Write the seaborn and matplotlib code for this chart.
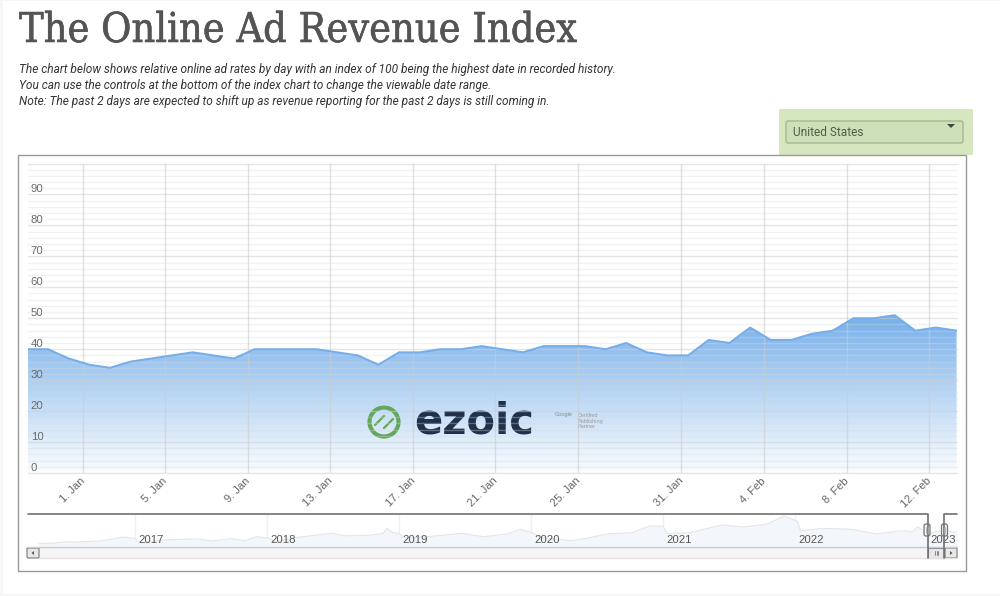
import numpy as np
import pandas as pd
import seaborn as sns
import matplotlib.pyplot as plt
import matplotlib.patheffects as pe
from matplotlib.colors import LinearSegmentedColormap
from matplotlib.patches import Rectangle, FancyBboxPatch, Circle, Polygon
from matplotlib.transforms import ScaledTranslation

#%% data
index_values = [40, 40, 37, 35, 34, 36, 37, 38, 39, 38, 37, 40, 40, 40, 40, 39, 38, 35, 39, 39, 40, 40, 41,
                40, 39, 41, 41, 41, 40, 42, 39, 38, 38, 43, 42, 47, 43, 43, 45, 46, 50, 50, 51, 46, 47, 46]
tick_labels = ['1. Jan', '5. Jan', '9. Jan', '13. Jan', '17. Jan', '21. Jan', '25. Jan',
               '31. Jan', '4. Feb', '8. Feb', '12. Feb']
y_labels = [0, 10, 20, 30, 40, 50, 60, 70, 80, 90]

nav_years = [2016.27, 2016.37, 2016.49, 2016.57, 2016.75, 2016.91, 2017.0, 2017.04, 2017.23, 2017.48,
             2017.58, 2017.73, 2017.83, 2017.92, 2018.01, 2018.06, 2018.23, 2018.49, 2018.59, 2018.78,
             2018.88, 2018.91, 2018.95, 2019.01, 2019.03, 2019.26, 2019.48, 2019.64, 2019.82, 2019.92,
             2020.01, 2020.07, 2020.30, 2020.42, 2020.58, 2020.77, 2020.90, 2021.0, 2021.03, 2021.20,
             2021.45, 2021.61, 2021.79, 2021.92, 2022.02, 2022.04, 2022.21, 2022.42, 2022.62, 2022.80,
             2022.89, 2022.93, 2023.0, 2023.10, 2023.23]
nav_values = [12, 12, 17, 16, 20, 32, 28, 13, 23, 26, 19, 27, 20, 33, 29, 17, 31, 44, 36, 38,
              44, 60, 47, 42, 29, 35, 44, 33, 42, 57, 46, 31, 20, 28, 42, 46, 68, 67, 44, 46,
              71, 64, 74, 100, 82, 52, 60, 57, 42, 52, 49, 65, 44, 52, 48]
nav_ticks = [2017, 2018, 2019, 2020, 2021, 2022, 2023]

title = 'The Online Ad Revenue Index'
intro = ['The chart below shows relative online ad rates by day with an index of 100 being the highest date in recorded history.',
         'You can use the controls at the bottom of the index chart to change the viewable date range.',
         'Note: The past 2 days are expected to shift up as revenue reporting for the past 2 days is still coming in.']

df = pd.DataFrame({'slot': np.arange(-1, len(index_values) - 1), 'index': index_values})
nav = pd.DataFrame({'year': nav_years, 'value': nav_values})

#%% figure
sns.set_theme(style='white')
plt.rcParams['font.family'] = ['Liberation Sans', 'DejaVu Sans']
W, H = 1000, 596
fig = plt.figure(figsize=(W / 100, H / 100), dpi=100, facecolor='#f7f7f7')

# whole page in pixels, y going down
page = fig.add_axes([0, 0, 1, 1], zorder=0)
page.set_xlim(0, W)
page.set_ylim(H, 0)
page.axis('off')
page.add_patch(Rectangle((3, 1), W, H - 3, fc='white', ec='none'))

page.text(19, 31, title, fontsize=29.6, family='DejaVu Serif', stretch='condensed', color='#545454', va='center',
          path_effects=[pe.withStroke(linewidth=0.4, foreground='#545454')])
for yy, line in zip([69, 86, 102], intro):
    page.text(19, yy, line, fontsize=8.6, family='Roboto', style='italic', color='#333333', va='center')

page.add_patch(Rectangle((779, 109), 194, 46, fc='#d6e6bf', ec='none'))
page.add_patch(FancyBboxPatch((786, 121), 177, 22, boxstyle='round,pad=0,rounding_size=2', fc='#cfdfba', ec='#a3b88d', lw=1))
page.text(793, 132.5, 'United States', fontsize=8.6, family='Roboto', color='#4d5e48', va='center')
page.add_patch(Polygon([(947, 124), (955, 124), (951, 128)], fc='#3d4a3a', ec='none'))

page.add_patch(Rectangle((18, 155), 948, 416, fc='white', ec='#999999', lw=1))

#%% main chart
ax = fig.add_axes([28 / W, 1 - 473 / H, 929 / W, (473 - 163.5) / H], zorder=2)
ax.patch.set_alpha(0)
ax.set_axisbelow(False)

fill = ax.fill_between(df['slot'], df['index'], 0, color='none')
grad = LinearSegmentedColormap.from_list('blues', ['#fbfdff', '#74aeea'])
im = ax.imshow(np.linspace(1, 0, 256).reshape(-1, 1), cmap=grad, extent=[-1, 44, 0, 52], aspect='auto', zorder=1)
im.set_clip_path(fill.get_paths()[0], transform=ax.transData)
sns.lineplot(data=df, x='slot', y='index', ax=ax, color='#74ade8', lw=1.4, zorder=4)

ax.set_xlim(-0.97, 44.02)
ax.set_ylim(0, 100)
for v in range(0, 101, 2):
    if v % 10 == 0:
        ax.axhline(v, color='#ccd0d4', lw=1, alpha=0.55, zorder=3, clip_on=False)
    else:
        ax.axhline(v, color='#d4dae0', lw=1, alpha=0.35, zorder=3, clip_on=False)

# ordinal axis, no slot for the missing day in late January
tick_slots = [1.67, 5.67, 9.67, 13.67, 17.67, 21.67, 25.67, 30.67, 34.67, 38.67, 42.67]
for s in tick_slots:
    ax.axvline(s, color='#cccccc', lw=1, alpha=0.6, zorder=3)
ax.set_xticks(tick_slots)
ax.set_xticklabels(tick_labels, rotation=45, ha='right', va='top', rotation_mode='anchor', fontsize=8, color='#666666')
ax.set_yticks(y_labels)
ax.set_yticklabels(y_labels, fontsize=8.2, color='#666666')
ax.tick_params(axis='y', pad=-2, length=0)
ax.tick_params(axis='x', pad=2, length=0)
for lab in ax.get_yticklabels():
    lab.set_ha('left')
    lab.set_va('bottom')
shift = ScaledTranslation(-3 / 100, 0, fig.dpi_scale_trans)
for lab in ax.get_xticklabels():
    lab.set_transform(lab.get_transform() + shift)
ax.set_xlabel('')
ax.set_ylabel('')
sns.despine(ax=ax, left=True, top=True, right=True, bottom=True)

# logo sits under the grid lines
logo_green = '#62a85a'
logo_dark = '#20304a'
ax.add_patch(Circle((384, 422), 14.5, fc='none', ec=logo_green, lw=3, transform=page.transData, zorder=2))
ax.plot([375, 384], [425, 416], color=logo_green, lw=1.6, transform=page.transData, zorder=2)
ax.plot([384, 393], [428, 419], color=logo_green, lw=1.6, transform=page.transData, zorder=2)
ax.text(414, 421, 'ezoic', fontsize=30, fontweight='bold', family='DejaVu Sans', color=logo_dark,
        va='center', transform=page.transData, zorder=2)
ax.text(555, 414.5, 'Google', fontsize=4, color='#888888', va='center', transform=page.transData, zorder=2)
ax.text(578, 421, 'Certified\nPublishing\nPartner', fontsize=4, color='#999999', va='center', transform=page.transData, zorder=2)

#%% navigator
nx = fig.add_axes([28 / W, 1 - 547 / H, 929 / W, 33 / H], zorder=1)
nx.patch.set_alpha(0)
nx.fill_between(nav['year'], nav['value'], 0, color='#f3f7fb', lw=0)
sns.lineplot(data=nav, x='year', y='value', ax=nx, color='#e2e6ea', lw=0.8)
nx.set_xlim(2017 - 107 / 132, 2017 + 822 / 132)
nx.set_ylim(0, 106)
nx.set_xticks([])
nx.set_yticks([])
nx.set_xlabel('')
nx.set_ylabel('')
sns.despine(ax=nx, left=True, top=True, right=True, bottom=True)
for yr in nav_ticks:
    nx.axvline(yr, color='#f0f0f0', lw=1, zorder=0)
    nx.annotate(str(yr), (yr, 0), xytext=(3, 7), textcoords='offset pixels', fontsize=8.2, color='#555555',
                va='center', ha='left', annotation_clip=False, zorder=5)

#%% selector and scrollbar on top
top = fig.add_axes([0, 0, 1, 1], zorder=3)
top.set_xlim(0, W)
top.set_ylim(H, 0)
top.axis('off')
top.patch.set_alpha(0)
top.add_patch(Rectangle((39, 547), 906, 11, fc='#f5f5f5', ec='none'))
top.plot([28, 957], [547, 547], color='#cccccc', lw=1)
top.plot([39, 957], [558, 558], color='#e4e4e4', lw=1)
top.plot([28, 928, 928], [514, 514, 558], color='#707070', lw=1.2)
top.plot([944, 944, 957], [558, 514, 514], color='#707070', lw=1.2)
for hx in [927, 944.5]:
    top.add_patch(FancyBboxPatch((hx - 3, 524), 6, 12, boxstyle='round,pad=0,rounding_size=2', fc='#f2f2f2', ec='#777777', lw=0.9))
    top.plot([hx - 0.8, hx - 0.8], [527, 533], color='#aaaaaa', lw=0.6)
    top.plot([hx + 0.8, hx + 0.8], [527, 533], color='#aaaaaa', lw=0.6)
top.add_patch(Rectangle((928, 548), 16, 10, fc='#e8e8e8', ec='#888888', lw=0.8))
for bx in [935, 936.5, 938]:
    top.plot([bx, bx], [551, 555], color='#777777', lw=0.6)
for bx0, bx1 in [(27, 39), (945, 957)]:
    top.add_patch(FancyBboxPatch((bx0, 548), bx1 - bx0, 10, boxstyle='round,pad=0,rounding_size=1', fc='#e8e8e8', ec='#777777', lw=0.8))
top.add_patch(Polygon([(34, 551), (34, 555), (31.5, 553)], fc='#555555', ec='none'))
top.add_patch(Polygon([(950, 551), (950, 555), (952.5, 553)], fc='#555555', ec='none'))

fig.savefig('out.png', dpi=100, facecolor=fig.get_facecolor())
